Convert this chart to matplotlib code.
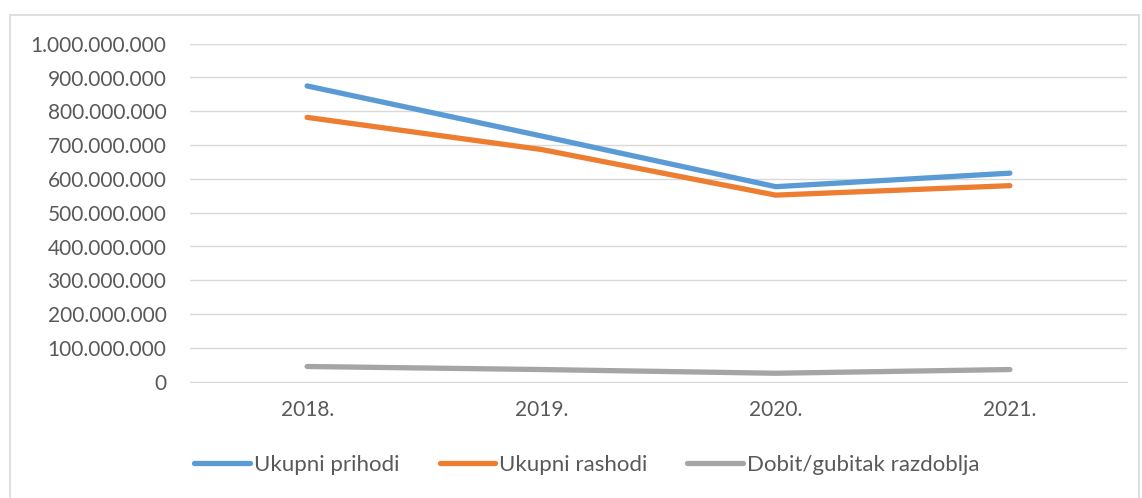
import matplotlib.pyplot as plt
from matplotlib.patches import Rectangle
from matplotlib.ticker import FuncFormatter

plt.rcParams["font.family"] = ["Lato", "DejaVu Sans"]

years = ["2018.", "2019.", "2020.", "2021."]
prihodi = [875e6, 727e6, 577e6, 617e6]
rashodi = [782e6, 687e6, 552e6, 580e6]
dobit = [45e6, 36e6, 25e6, 36e6]

series = [
    ("Ukupni prihodi", prihodi, "#5B9BD5"),
    ("Ukupni rashodi", rashodi, "#ED7D31"),
    ("Dobit/gubitak razdoblja", dobit, "#A5A5A5"),
]

text_col = "#595959"

fig = plt.figure(figsize=(11.42, 4.98), dpi=100)
# chart area border
fig.patches.append(Rectangle((10 / 1142, -0.01), 1129 / 1142, 1 - 15 / 498 + 0.01,
                             transform=fig.transFigure, fill=False,
                             edgecolor="#D9D9D9", linewidth=1.2))

ax = fig.add_axes([190 / 1142, 1 - 381.7 / 498, 937 / 1142, 338 / 498])
x = range(len(years))
for label, vals, color in series:
    ax.plot(x, vals, color=color, linewidth=3.8, solid_capstyle="round",
            solid_joinstyle="round", label=label)

ax.set_xlim(-0.5, 3.5)
ax.set_ylim(0, 1e9)
ax.set_yticks([i * 1e8 for i in range(11)])
ax.yaxis.set_major_formatter(FuncFormatter(lambda v, p: f"{int(v):,}".replace(",", ".")))
ax.set_xticks(list(x))
ax.set_xticklabels(years)
ax.grid(axis="y", color="#D9D9D9", linewidth=1.0)
ax.set_axisbelow(True)
for s in ["top", "right", "left"]:
    ax.spines[s].set_visible(False)
ax.spines["bottom"].set_color("#D9D9D9")
ax.tick_params(axis="both", length=0, labelsize=15, colors=text_col)
ax.tick_params(axis="y", pad=17)
ax.tick_params(axis="x", pad=13)

leg = fig.legend(loc="center", bbox_to_anchor=(0.514, 1 - 465 / 498), ncol=3,
                 frameon=False, fontsize=16, handlelength=2.5,
                 handletextpad=0.18, columnspacing=1.8)
for t in leg.get_texts():
    t.set_color(text_col)
for h in leg.get_lines():
    h.set_solid_capstyle("round")

fig.savefig("out.png", dpi=100)
